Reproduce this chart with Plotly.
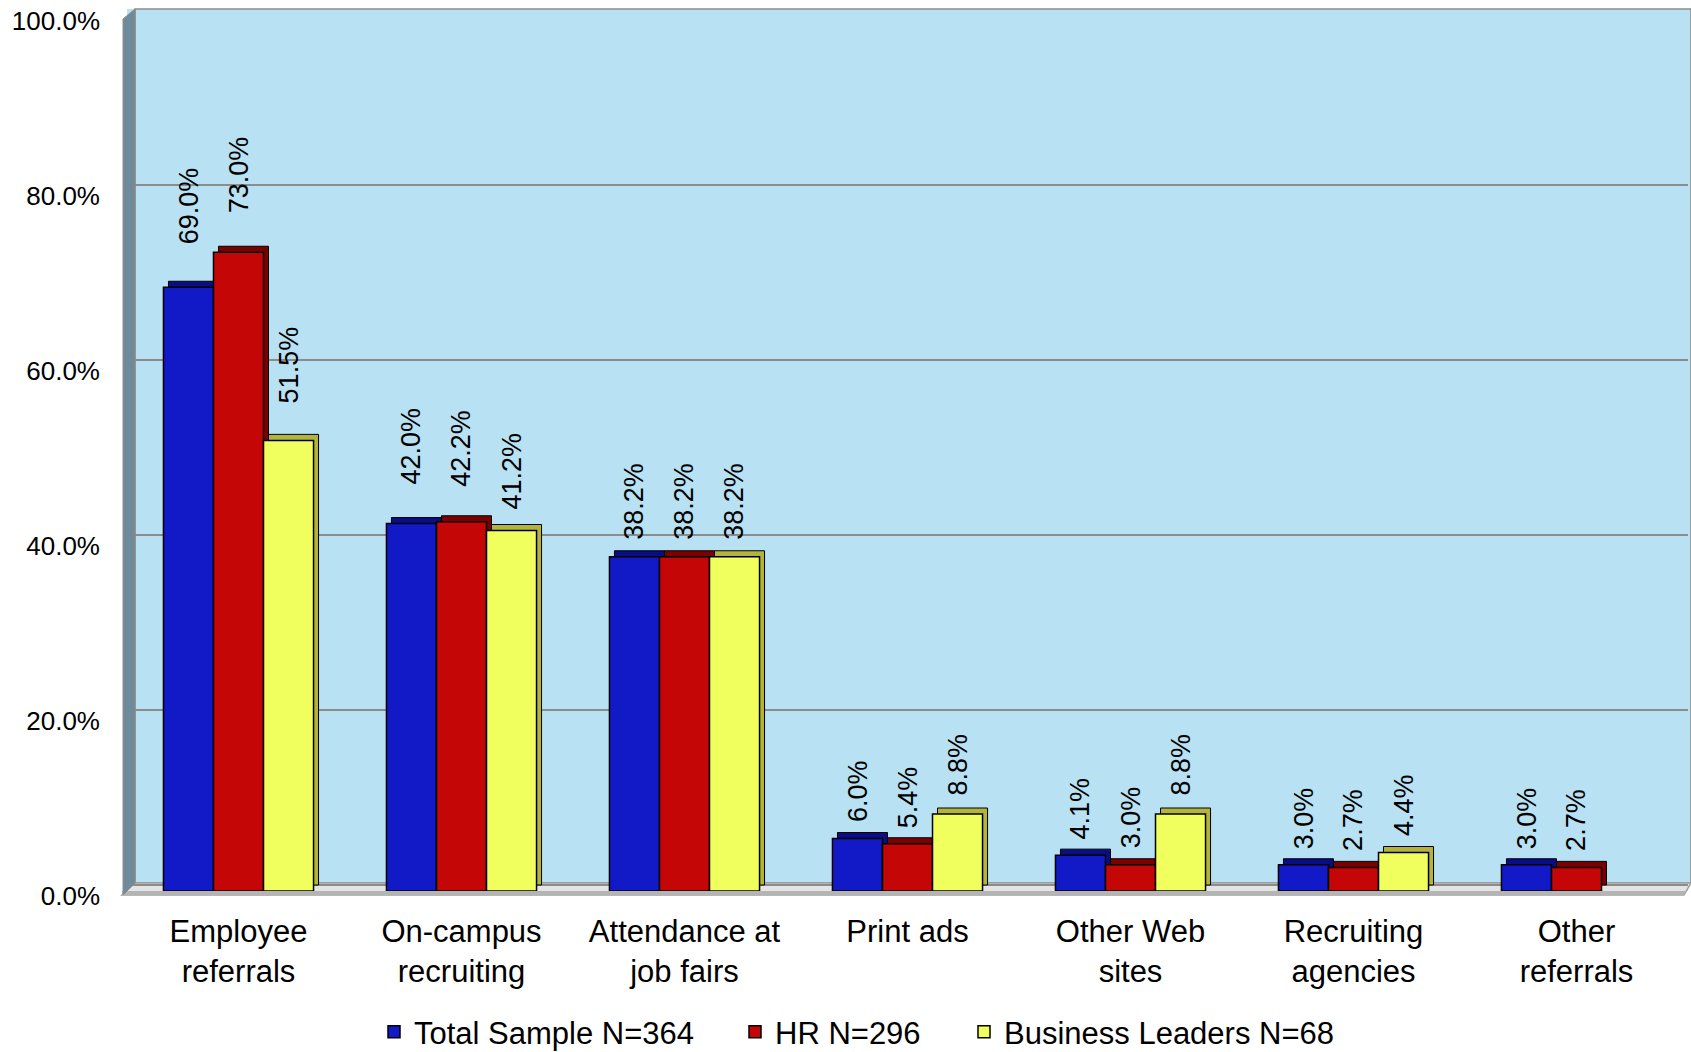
import plotly.graph_objects as go

# ---------------- data ----------------
categories = ["Employee<br>referrals", "On-campus<br>recruiting", "Attendance at<br>job fairs",
              "Print ads", "Other Web<br>sites", "Recruiting<br>agencies", "Other<br>referrals"]
series_names = ["Total Sample N=364", "HR N=296", "Business Leaders N=68"]
total_sample = [69.0, 42.0, 38.2, 6.0, 4.1, 3.0, 3.0]
hr = [73.0, 42.2, 38.2, 5.4, 3.0, 2.7, 2.7]
business_leaders = [51.5, 41.2, 38.2, 8.8, 8.8, 4.4, None]
y_tickvals = [0, 20, 40, 60, 80, 100]
y_ticktext = ["0.0%", "20.0%", "40.0%", "60.0%", "80.0%", "100.0%"]

# ---------------- style ----------------
W, H = 1691, 1052
front_colors = ["#121AC8", "#C40606", "#F0FF5E"]
depth_colors = ["#0A0E84", "#7C0000", "#B4B43C"]
FONT = "Liberation Sans, Arial, sans-serif"
# label gap above each bar (px), per series then category
label_gap = [[44, 40, 18, 18, 17, 17, 17],
             [40, 36, 18, 16, 17, 17, 17],
             [38, 22, 18, 19, 19, 17, 17]]
# left pixel where each legend entry's text starts
legend_text_px = [414, 775, 1004]

L, R, T, B = 127, 3, 9, 161
plot_w = W - L - R
plot_h = H - T - B
px_per_unit_y = 8.75
y_top = plot_h / px_per_unit_y
bargap = 0.327
cat_px = plot_w / len(categories)
bar_px = cat_px * (1 - bargap) / 3
depth_x, depth_y = 5, 6
n = len(categories)

values = [total_sample, hr, business_leaders]
legend_ids = ["legend", "legend2", "legend3"]

fig = go.Figure()
# depth (3D side/top faces) on base axes, shifted up-right
for name, vals, c in zip(series_names, values, depth_colors):
    fig.add_trace(go.Bar(x=categories, y=vals, name=name, marker=dict(color=c, line=dict(color="black", width=1)),
                         showlegend=False, hoverinfo="skip", xaxis="x", yaxis="y"))
# front faces on overlay axes
for name, vals, c, lg in zip(series_names, values, front_colors, legend_ids):
    fig.add_trace(go.Bar(x=categories, y=vals, name=name, legend=lg,
                         marker=dict(color=c, line=dict(color="black", width=1.5)),
                         xaxis="x2", yaxis="y2"))

annotations = []
for j, vals in enumerate(values):
    for i, v in enumerate(vals):
        if v is None:
            continue
        annotations.append(dict(x=categories[i], y=v, xref="x2", yref="y2", text=f"{v:.1f}%",
                                showarrow=False, textangle=-90, yanchor="bottom", xanchor="center",
                                xshift=(j - 1) * bar_px, yshift=label_gap[j][i] - 3,
                                font=dict(family=FONT, size=27, color="black")))

def px2paper(px, py):
    return (px - L) / plot_w, (H - B - py) / plot_h

def path(points):
    pts = [px2paper(*p) for p in points]
    return "M " + " L ".join(f"{x:.5f},{y:.5f}" for x, y in pts) + " Z"

shapes = [
    # back wall extension
    dict(type="path", xref="paper", yref="paper", layer="below",
         path=path([(135, 9), (1691, 9), (1691, 883), (135, 883)]),
         fillcolor="#B8E1F3", line=dict(color="#8C8C8C", width=1.5)),
    # floor
    dict(type="path", xref="paper", yref="paper", layer="below",
         path=path([(122, 895), (1684, 895), (1691, 883), (135, 883)]),
         fillcolor="#E4E4E4", line=dict(color="#A0A0A0", width=1.5)),
    # floor front edge
    dict(type="path", xref="paper", yref="paper", layer="below",
         path=path([(122, 891), (1686, 891), (1684, 895), (122, 895)]),
         fillcolor="#B4B4B4", line=dict(width=0)),
    # left wall
    dict(type="path", xref="paper", yref="paper", layer="above",
         path=path([(123, 19), (135, 9), (135, 883), (123, 895)]),
         fillcolor="#6F8B99", line=dict(color="#8C8C8C", width=1)),
]

shift_x = depth_x / cat_px
shift_y = depth_y / px_per_unit_y

legend_y = (H - B - 1032) / plot_h
legend_common = dict(orientation="h", xanchor="left", y=legend_y, yanchor="middle",
                     font=dict(family=FONT, size=31), bgcolor="rgba(0,0,0,0)",
                     borderwidth=0, itemwidth=30)

fig.update_layout(
    width=W, height=H,
    margin=dict(l=L, r=R, t=T, b=B, pad=0, autoexpand=False),
    paper_bgcolor="white", plot_bgcolor="#B8E1F3",
    barmode="group", bargap=bargap, bargroupgap=0,
    font=dict(family=FONT, color="black"),
    xaxis=dict(type="category", categoryorder="array", categoryarray=categories,
               range=[-0.5 - shift_x, n - 0.5 - shift_x], showticklabels=False, showgrid=False,
               zeroline=False, showline=False, fixedrange=True),
    yaxis=dict(range=[-shift_y, y_top - shift_y], tickvals=y_tickvals, showticklabels=False,
               showgrid=True, gridcolor="#8C8C8C", gridwidth=2, zeroline=False, showline=False),
    xaxis2=dict(type="category", categoryorder="array", categoryarray=categories, overlaying="x",
                side="bottom", anchor="y2", range=[-0.5, n - 0.5], showgrid=False, zeroline=False,
                showline=False, ticks="", tickfont=dict(family=FONT, size=31), ticklabelstandoff=19),
    yaxis2=dict(overlaying="y", side="left", anchor="x2", range=[0, y_top], tickvals=y_tickvals,
                ticktext=y_ticktext, showgrid=False, zeroline=False, showline=False, ticks="",
                tickfont=dict(family=FONT, size=26), ticklabelstandoff=26, ticklabelshift=5,
                ticklabeloverflow="allow"),
    legend=dict(legend_common, x=(legend_text_px[0] - 40 - L) / plot_w),
    legend2=dict(legend_common, x=(legend_text_px[1] - 40 - L) / plot_w),
    legend3=dict(legend_common, x=(legend_text_px[2] - 40 - L) / plot_w),
    annotations=annotations,
    shapes=shapes,
)

fig.write_html("out.html", config={"displayModeBar": False},
               post_script="document.body.style.margin='0';document.body.style.overflow='hidden';")
